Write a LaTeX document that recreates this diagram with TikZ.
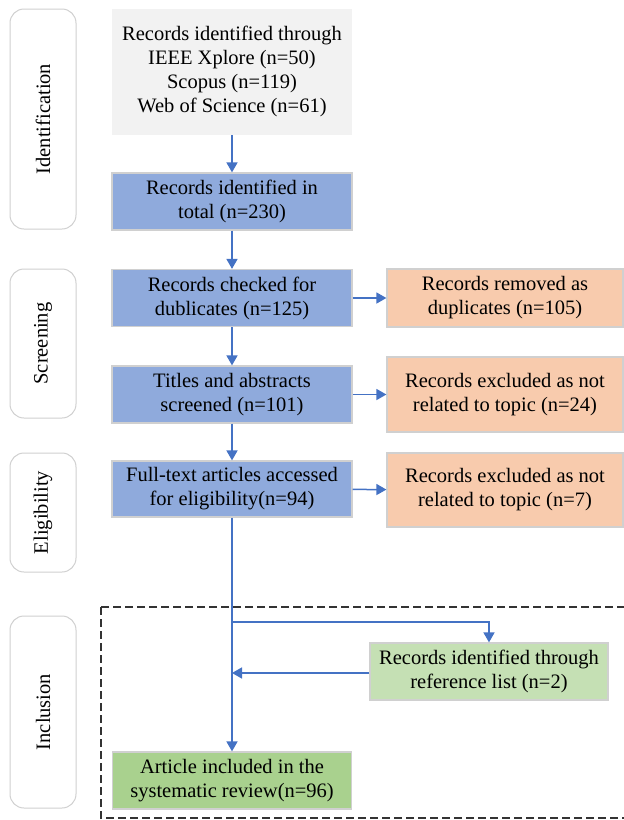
\documentclass[tikz,border=0pt]{standalone}
\usepackage{fontspec}
\setmainfont{Liberation Serif}
\usetikzlibrary{arrows.meta, positioning, calc}

\definecolor{srcgray}{HTML}{F2F2F2}
\definecolor{stepblue}{HTML}{8FAADC}
\definecolor{linkblue}{HTML}{4472C4}
\definecolor{outpeach}{HTML}{F8CBAD}
\definecolor{refgreen}{HTML}{C5E0B4}
\definecolor{incgreen}{HTML}{A9D18E}
\definecolor{edgegray}{HTML}{D0D0D0}

\begin{document}
\begin{tikzpicture}[
  x=1pt, y=-1pt,
  font=\fontsize{20.5}{24}\selectfont,
  box/.style = {draw=edgegray, line width=1.2pt, align=center, inner sep=2pt},
  stage/.style = {draw=edgegray, line width=1pt, rounded corners=14pt, minimum width=66pt},
  arrow/.style = {draw=linkblue, line width=1.5pt, -{Triangle[width=11pt,length=10pt]}},
  link/.style = {draw=linkblue, line width=1.5pt}
]
  \useasboundingbox (0,0) rectangle (624,820);

  % stage labels
  \node[stage, minimum height=220pt] (ident) at (43,119) {};
  \node[rotate=90] at (ident.center) {Identification};
  \node[stage, minimum height=149pt] (screen) at (43,343.5) {};
  \node[rotate=90] at (screen.center) {Screening};
  \node[stage, minimum height=119pt] (elig) at (43,512.5) {};
  \node[rotate=90] at (elig.center) {Eligibility};
  \node[stage, minimum height=192pt] (incl) at (43,712) {};
  \node[rotate=90] at (incl.center) {Inclusion};

  % inclusion frame
  \draw[line width=1.3pt, dash pattern=on 8pt off 4pt, black!80] (101,607) rectangle (626,818);

  % main column
  \node[box, draw=none, fill=srcgray, minimum width=240pt, minimum height=126pt] (sources) at (232,71.5)
    {Records identified through\\ IEEE Xplore (n=50)\\ Scopus (n=119)\\ Web of Science (n=61)};
  \node[box, fill=stepblue, minimum width=240pt, minimum height=57pt] (total) at (232,201.5)
    {Records identified in\\ total (n=230)};
  \node[box, fill=stepblue, minimum width=240pt, minimum height=57pt] (checked) at (232,298)
    {Records checked for\\ dublicates (n=125)};
  \node[box, fill=stepblue, minimum width=240pt, minimum height=57pt] (titles) at (232,394.5)
    {Titles and abstracts\\ screened (n=101)};
  \node[box, fill=stepblue, minimum width=240pt, minimum height=56pt] (fulltext) at (232,489)
    {Full-text articles accessed\\ for eligibility(n=94)};
  \node[box, fill=incgreen, minimum width=239pt, minimum height=57pt] (article) at (232,780.5)
    {Article included in the\\ systematic review(n=96)};

  % side boxes
  \node[box, fill=outpeach, minimum width=236pt, minimum height=58pt] (removed) at (505,298)
    {Records removed as\\ duplicates (n=105)};
  \node[box, fill=outpeach, minimum width=236pt, minimum height=75pt] (excl1) at (505,394.5)
    {Records excluded as not\\ related to topic (n=24)};
  \node[box, fill=outpeach, minimum width=236pt, minimum height=74pt] (excl2) at (505,490)
    {Records excluded as not\\ related to topic (n=7)};
  \node[box, fill=refgreen, minimum width=238pt, minimum height=57pt] (reflist) at (489,671.5)
    {Records identified through\\ reference list (n=2)};

  % connectors
  \draw[arrow] (sources) -- (total);
  \draw[arrow] (total) -- (checked);
  \draw[arrow] (checked) -- (titles);
  \draw[arrow] (titles) -- (fulltext);
  \draw[arrow] (fulltext) -- (article);
  \draw[arrow] (checked) -- (removed);
  \draw[arrow] (titles) -- (excl1);
  \draw[arrow] (fulltext) -- (excl2);

  % reference list loop
  \coordinate (split) at (232,622);
  \coordinate (merge) at (232,673);
  \draw[arrow] (split) -| (reflist.north);
  \draw[arrow] (reflist.west |- merge) -- (merge);

\end{tikzpicture}
\end{document}
